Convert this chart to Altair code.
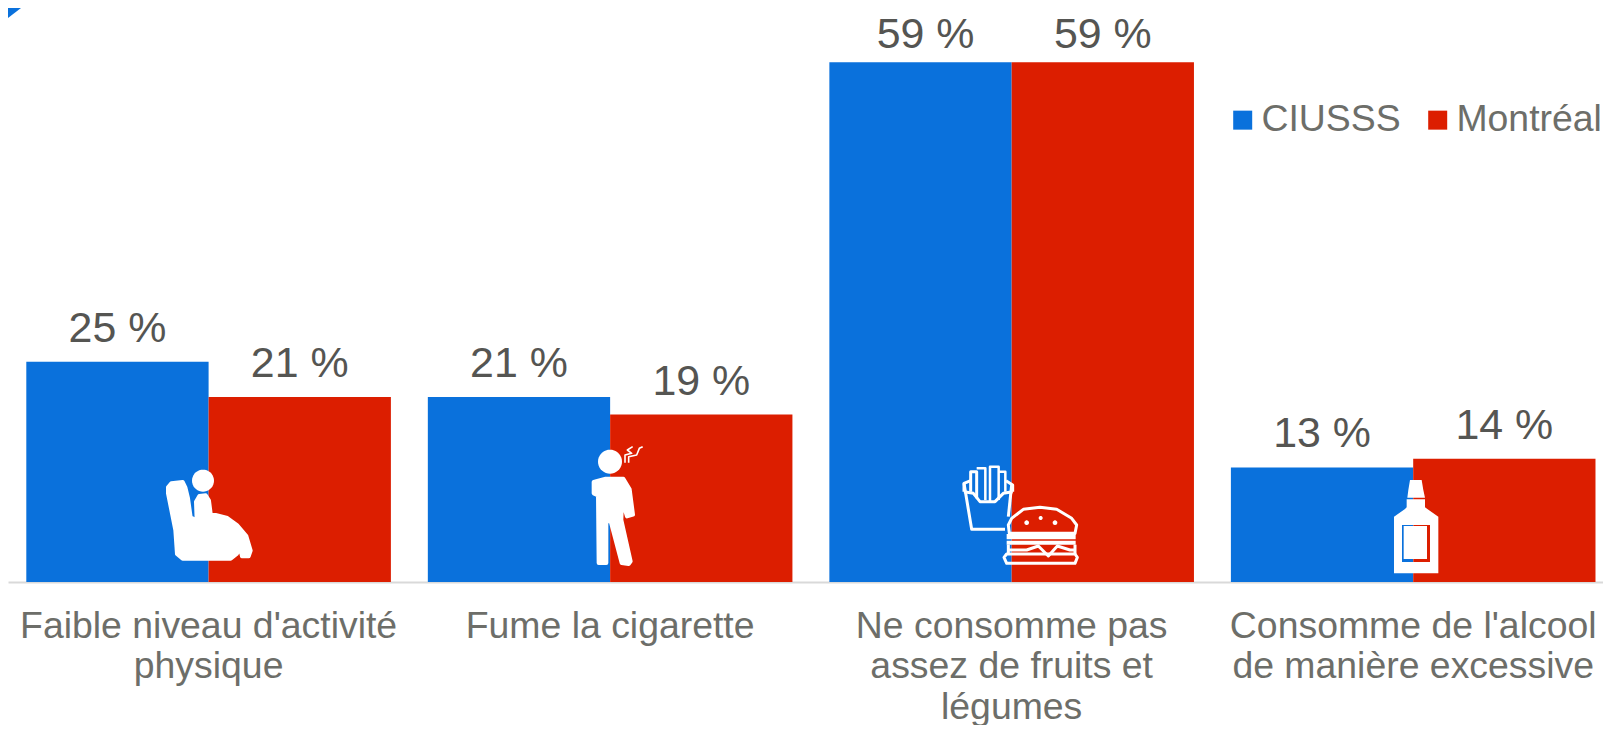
import math
import altair as alt
import pandas as pd

categories = ["Faible niveau d'activité|physique", "Fume la cigarette",
              "Ne consomme pas|assez de fruits et|légumes",
              "Consomme de l'alcool|de manière excessive"]
ciusss = [25, 21, 59, 13]
montreal = [21, 19, 59, 14]
series = ["CIUSSS", "Montréal"]
BLUE, RED, WHITE = "#0a71dc", "#dc1e00", "#ffffff"
TXT, TXT2 = "#555552", "#6d6e69"

rows = []
for c, a, b in zip(categories, ciusss, montreal):
    rows.append({"cat": c, "s": series[0], "v": a, "lab": f"{a} %"})
    rows.append({"cat": c, "s": series[1], "v": b, "lab": f"{b} %"})
df = pd.DataFrame(rows)

Y_MAX = 65.15
x = alt.X("cat:N", sort=categories, title=None,
          scale=alt.Scale(paddingInner=0.092, paddingOuter=0.03215, align=0.709),
          axis=alt.Axis(labelExpr="split(datum.label, '|')", labelAngle=0, labelFontSize=37.4,
                        labelFont="Liberation Sans", labelColor=TXT2, labelPadding=25,
                        labelLineHeight=40.5, labelLimit=0, ticks=False, domainColor="#d9d9d9",
                        domainWidth=2, grid=False, labelBaseline="top", labelOverlap=False))
y = alt.Y("v:Q", title=None, axis=None, scale=alt.Scale(domain=[0, Y_MAX], nice=False, zero=True))
xo = alt.XOffset("s:N", sort=series, scale=alt.Scale(paddingInner=0, paddingOuter=0))

bars = alt.Chart(df).mark_bar(strokeWidth=0).encode(
    x=x, y=y, xOffset=xo,
    color=alt.Color("s:N", sort=series, title=None,
                    scale=alt.Scale(domain=series, range=[BLUE, RED]),
                    legend=alt.Legend(orient="none", legendX=1216, legendY=93, direction="horizontal",
                                      symbolType="square", symbolSize=361, symbolStrokeWidth=0,
                                      labelFontSize=37.4, labelFont="Liberation Sans", labelColor=TXT2,
                                      labelOffset=0, columnPadding=18, labelLimit=0, padding=0)))

def value_labels(flt, dy, dx=0):
    return alt.Chart(df).transform_filter(flt).mark_text(
        fontSize=42.9, font="Liberation Sans", color=TXT, baseline="alphabetic", dy=dy, dx=dx
    ).encode(x=x, y=y, xOffset=xo, text="lab:N")

labels = value_labels("datum.v < 50", -20)
labels_top_a = value_labels("datum.v >= 50 && datum.s == 'CIUSSS'", -14, 5)
labels_top_b = value_labels("datum.v >= 50 && datum.s == 'Montréal'", -14)

# Decorative pictograms, outlined in reference zoom coordinates
def P(pts, ox, oy, close=True):
    c = [((ox + px / 3 - 8) / 50, (oy + py / 3 - 8) / 50) for px, py in pts]
    return "M" + "L".join(f"{a:.4f},{b:.4f}" for a, b in c) + ("Z" if close else "")

def C(cx, cy, r, ox, oy):
    return P([(cx + r * math.cos(i * math.pi / 18), cy + r * math.sin(i * math.pi / 18)) for i in range(36)], ox, oy)

def R(x0, y0, x1, y1, ox, oy):
    return P([(x0, y0), (x1, y0), (x1, y1), (x0, y1)], ox, oy)

def filled(path, color=WHITE):
    return alt.Chart(df.head(1)).mark_point(shape=path, filled=True, fill=color, size=10000, opacity=1,
                                            strokeWidth=0).encode(x=alt.value(0), y=alt.value(0))

def soft(path):
    return alt.Chart(df.head(1)).mark_point(shape=path, filled=True, fill=WHITE, stroke=WHITE, strokeWidth=4,
                                            strokeJoin="round", size=10000, opacity=1).encode(x=alt.value(0), y=alt.value(0))

def line(path, w=3):
    return alt.Chart(df.head(1)).mark_point(shape=path, filled=False, stroke=WHITE, strokeWidth=w, size=10000,
                                            strokeJoin="round", opacity=1).encode(x=alt.value(0), y=alt.value(0))

O1, O2 = (140, 430), (940, 450)
icons = [filled(P([(0, 0), (39, 0), (0, 30)], 8, 8), BLUE)]
# sitting person
icons += [filled(C(189, 152, 33, *O1)),
          soft(P([(84, 172), (94, 160), (128, 156), (136, 172), (144, 205), (152, 262), (170, 272), (168, 215),
                  (178, 198), (197, 196), (207, 212), (212, 251), (262, 264), (291, 285), (319, 318), (332, 362),
                  (326, 379), (306, 379), (300, 352), (290, 372), (272, 386), (128, 386), (111, 372), (106, 300),
                  (84, 190)], *O1))]
# smoker
icons += [filled(C(1410, 95, 36, *O1)),
          soft(P([(1361, 156), (1397, 146), (1450, 146), (1469, 178), (1479, 254), (1461, 259), (1446, 210),
                  (1444, 270), (1472, 394), (1466, 402), (1445, 399), (1412, 274), (1399, 274), (1399, 399),
                  (1376, 399), (1374, 196), (1361, 190)], *O1)),
          line(P([(1455, 98), (1455, 75), (1475, 70), (1462, 60), (1478, 50)], *O1, close=False), 1.6),
          line(P([(1466, 98), (1466, 80), (1490, 75), (1498, 55), (1508, 50)], *O1, close=False), 1.6)]
# fries
icons += [line(P([(72, 100), (95, 238), (195, 238)], *O2, close=False)),
          line(P([(215, 105), (205, 200)], *O2, close=False)),
          line(P([(72, 125), (100, 130), (120, 155), (165, 155), (190, 130), (218, 125)], *O2, close=False)),
          line(P([(72, 125), (72, 100), (92, 92)], *O2, close=False)),
          line(P([(218, 125), (218, 105), (198, 92)], *O2, close=False)),
          line(P([(92, 125), (92, 65), (110, 65), (110, 145)], *O2, close=False)),
          line(P([(110, 55), (136, 55), (136, 150)], *O2, close=False), 2.5),
          line(P([(150, 155), (150, 50), (176, 50), (176, 150)], *O2, close=False), 2.5),
          line(P([(176, 65), (196, 65), (196, 125)], *O2, close=False), 2.5)]
# burger
icons += [line(P([(208, 250), (205, 225), (215, 205), (250, 178), (300, 172), (350, 178), (395, 205), (410, 225),
                  (405, 250)], *O2)),
          filled(R(200, 252, 407, 268, *O2)), filled(R(200, 272, 407, 284, *O2)),
          line(P([(205, 284), (205, 312)], *O2, close=False)), line(P([(405, 284), (405, 312)], *O2, close=False)),
          line(P([(205, 300), (260, 300), (295, 288), (325, 318), (352, 288), (390, 300), (405, 300)], *O2, close=False)),
          line(P([(200, 312), (405, 312), (412, 322), (405, 340), (200, 340), (192, 322)], *O2)),
          filled(C(260, 218, 7, *O2)), filled(C(302, 204, 6, *O2)), filled(C(345, 218, 7, *O2))]
# bottle
icons += [filled(P([(1362, 200), (1395, 177), (1400, 172), (1400, 148), (1455, 148), (1455, 172), (1462, 177),
                    (1495, 200), (1495, 370), (1362, 370)], *O2)),
          filled(P([(1402, 143), (1405, 120), (1410, 90), (1445, 90), (1450, 120), (1455, 143)], *O2)),
          filled(R(1386, 225, 1420, 336, *O2), BLUE), filled(R(1420, 225, 1470, 336, *O2), RED),
          filled(R(1391, 228, 1461, 327, *O2))]

chart = alt.layer(bars, labels, labels_top_a, labels_top_b, *icons).properties(
    width=1595, height=574, background="white",
    autosize=alt.AutoSizeParams(type="none"),
    padding={"left": 0, "top": 0, "right": 0, "bottom": 143}
).configure_view(stroke=None)

chart.save("out.html", embed_options={"renderer": "svg", "actions": False})
